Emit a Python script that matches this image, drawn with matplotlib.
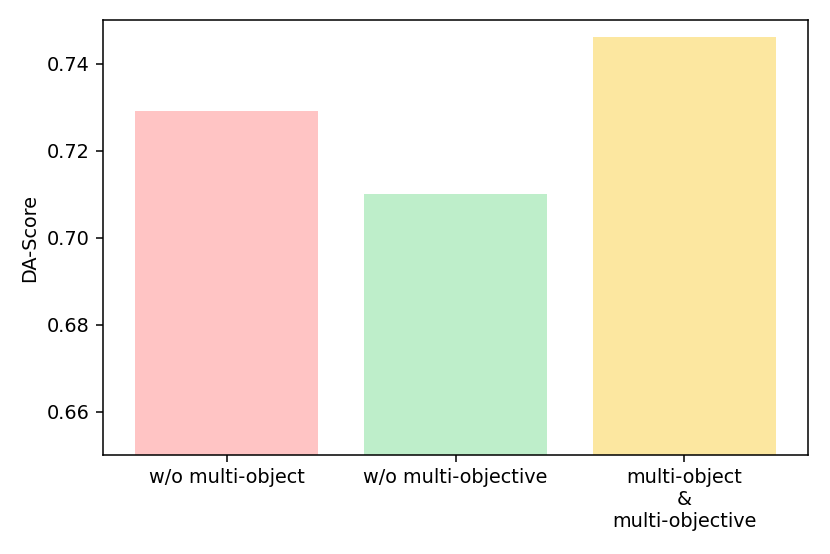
import matplotlib
matplotlib.use("Agg")
import matplotlib.pyplot as plt

categories = ["w/o multi-object", "w/o multi-objective", "multi-object\n&\nmulti-objective"]
scores = [0.729, 0.710, 0.746]
colors = ["#FFC4C4", "#BEEECA", "#FCE7A0"]
yticks = [0.66, 0.68, 0.70, 0.72, 0.74]

DPI = 830 / 6
fig = plt.figure(figsize=(6, 554 / DPI), dpi=DPI)
ax = fig.add_axes([103/830, 1-455/554, (808-103)/830, (455-20)/554])
x = list(range(len(categories)))
ax.bar(x, scores, width=0.8, color=colors)
ax.set_xticks(x)
ax.set_xticklabels(categories)
ax.set_ylim(0.65, 0.75)
ax.set_yticks(yticks)
ax.set_yticklabels([f"{v:.2f}" for v in yticks])
ax.set_ylabel("DA-Score")
fig.savefig("out.png", dpi=DPI)
